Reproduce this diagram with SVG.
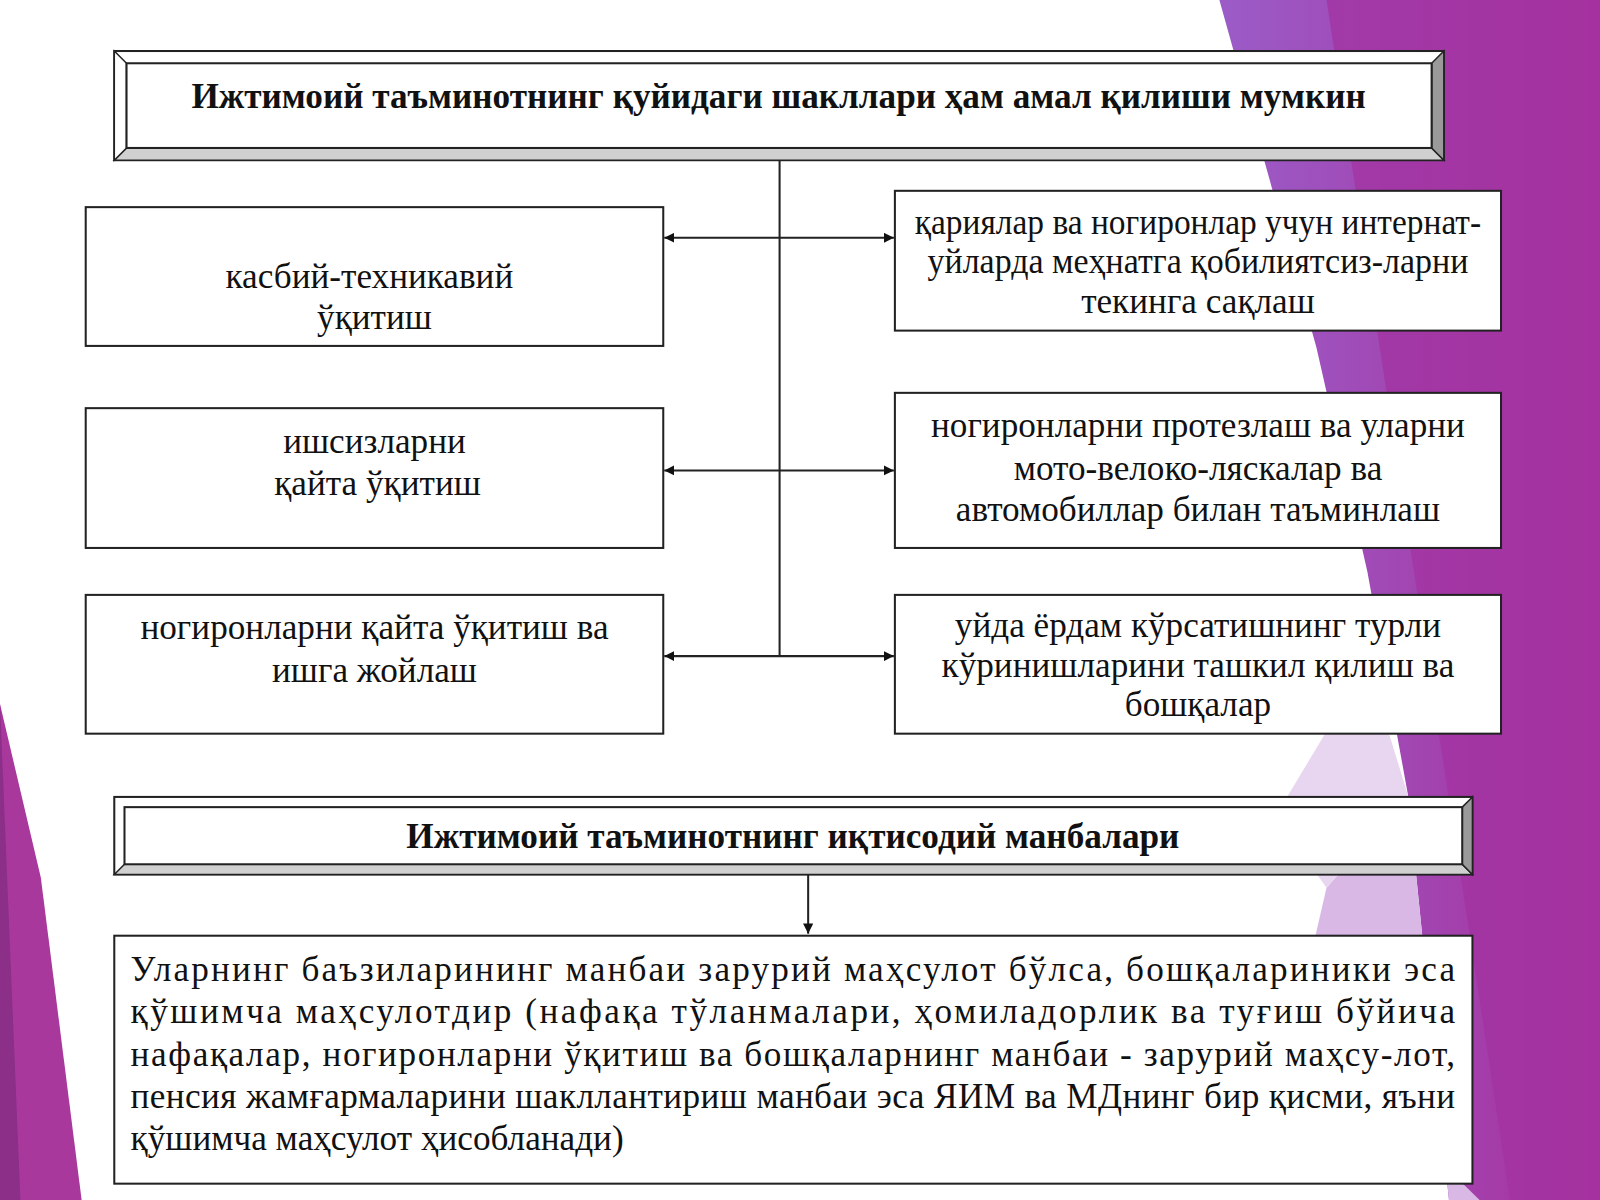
<svg xmlns="http://www.w3.org/2000/svg" width="1600" height="1200" viewBox="0 0 1600 1200">
<defs>
<style>
.t{font-family:"Liberation Serif","Times New Roman",serif;font-size:34.5px;fill:#111;text-anchor:middle}
.b{font-weight:bold;font-size:34.5px}
.j{text-anchor:start}
.box{fill:#fff;stroke:#222;stroke-width:2}
.ln{stroke:#222;stroke-width:2;fill:none}
</style>
<marker id="ah" viewBox="0 0 10 10" refX="10" refY="5" markerWidth="10" markerHeight="10" markerUnits="userSpaceOnUse" orient="auto-start-reverse"><path d="M0,0L10,5L0,10z" fill="#111"/></marker>
<linearGradient id="pg" x1="0" y1="0" x2="1" y2="0"><stop offset="0" stop-color="#9b5cc8"/><stop offset="1" stop-color="#a8309c"/></linearGradient>
</defs>
<g transform="scale(1.0204)">
<rect width="1568" height="1176" fill="#fff"/>
<g id="background">
<polygon points="1195,0 1568,0 1568,1176 1420,1176 1380,780 1340,560 1290,340" fill="url(#pg)"/>
<polygon points="1300,0 1568,0 1568,1176 1480,1176" fill="#a3329f" opacity="0.7"/>
<polygon points="1380,780 1300,870 1270,1000 1450,1176 1420,1176" fill="#d9b8e6"/>
<polygon points="1340,650 1250,800 1300,870 1380,780" fill="#e8d5ef"/>
<polygon points="0,690 40,860 80,1176 0,1176" fill="#a8389c"/>
<polygon points="0,690 20,1176 0,1176" fill="#8b2f88"/>
</g>
<g id="title1">
<rect x="112" y="50" width="1303" height="107" fill="#fff" stroke="#222" stroke-width="2"/>
<polygon points="112,157 124,145 1403,145 1415,157" fill="#d0d0d0" stroke="#222" stroke-width="1.5"/>
<polygon points="1415,50 1403,62 1403,145 1415,157" fill="#9a9a9a" stroke="#222" stroke-width="1.5"/>
<polygon points="112,50 124,62 124,145 112,157" fill="#fff" stroke="#222" stroke-width="1.5"/>
<rect x="124" y="62" width="1279" height="83" fill="#fff" stroke="#222" stroke-width="2"/>
<text class="t b" x="763" y="106">Ижтимоий таъминотнинг қуйидаги шакллари ҳам амал қилиши мумкин</text>
</g>
<g id="connectors">
<line class="ln" x1="764" y1="157" x2="764" y2="643"/>
<line class="ln" x1="651" y1="233" x2="876" y2="233" marker-start="url(#ah)" marker-end="url(#ah)"/>
<line class="ln" x1="651" y1="461" x2="876" y2="461" marker-start="url(#ah)" marker-end="url(#ah)"/>
<line class="ln" x1="651" y1="643" x2="876" y2="643" marker-start="url(#ah)" marker-end="url(#ah)"/>
<line class="ln" x1="792" y1="857" x2="792" y2="915" marker-end="url(#ah)"/>
</g>
<g id="n1"><rect class="box" x="84" y="203" width="566" height="136"/>
<text class="t" x="362" y="282">касбий-техникавий</text><text class="t" x="367" y="322">ўқитиш</text></g>
<g id="n2"><rect class="box" x="84" y="400" width="566" height="137"/>
<text class="t" x="367" y="444">ишсизларни</text><text class="t" x="370" y="485">қайта ўқитиш</text></g>
<g id="n3"><rect class="box" x="84" y="583" width="566" height="136"/>
<text class="t" x="367" y="626">ногиронларни қайта ўқитиш ва</text><text class="t" x="367" y="668">ишга жойлаш</text></g>
<g id="n4"><rect class="box" x="877" y="187" width="594" height="137"/>
<text class="t" x="1174" y="229" textLength="555" lengthAdjust="spacingAndGlyphs">қариялар ва ногиронлар учун интернат-</text><text class="t" x="1174" y="268" textLength="530" lengthAdjust="spacingAndGlyphs">уйларда меҳнатга қобилиятсиз-ларни</text><text class="t" x="1174" y="307">текинга сақлаш</text></g>
<g id="n5"><rect class="box" x="877" y="385" width="594" height="152"/>
<text class="t" x="1174" y="428">ногиронларни протезлаш ва уларни</text><text class="t" x="1174" y="470">мото-велоко-ляскалар ва</text><text class="t" x="1174" y="511">автомобиллар билан таъминлаш</text></g>
<g id="n6"><rect class="box" x="877" y="583" width="594" height="136"/>
<text class="t" x="1174" y="624">уйда ёрдам кўрсатишнинг турли</text><text class="t" x="1174" y="663">кўринишларини ташкил қилиш ва</text><text class="t" x="1174" y="702">бошқалар</text></g>
<g id="title2">
<rect x="112" y="781" width="1331" height="76" fill="#fff" stroke="#222" stroke-width="2"/>
<polygon points="112,857 122,847 1433,847 1443,857" fill="#d0d0d0" stroke="#222" stroke-width="1.5"/>
<polygon points="1443,781 1433,791 1433,847 1443,857" fill="#9a9a9a" stroke="#222" stroke-width="1.5"/>
<rect x="122" y="791" width="1311" height="56" fill="#fff" stroke="#222" stroke-width="2"/>
<text class="t b" x="777" y="831">Ижтимоий таъминотнинг иқтисодий манбалари</text>
</g>
<g id="n7"><rect class="box" x="112" y="917" width="1331" height="243"/>
<text class="t j" x="128" y="961" textLength="1298" lengthAdjust="spacing">Уларнинг баъзиларининг манбаи зарурий маҳсулот бўлса, бошқалариники эса</text>
<text class="t j" x="128" y="1003" textLength="1298" lengthAdjust="spacing">қўшимча маҳсулотдир (нафақа тўланмалари, ҳомиладорлик ва туғиш бўйича</text>
<text class="t j" x="128" y="1045" textLength="1298" lengthAdjust="spacing">нафақалар, ногиронларни ўқитиш ва бошқаларнинг манбаи - зарурий маҳсу-лот,</text>
<text class="t j" x="128" y="1086" textLength="1298" lengthAdjust="spacing">пенсия жамғармаларини шакллантириш манбаи эса ЯИМ ва МДнинг бир қисми, яъни</text>
<text class="t j" x="128" y="1127">қўшимча маҳсулот ҳисобланади)</text></g>
</g>
</svg>
